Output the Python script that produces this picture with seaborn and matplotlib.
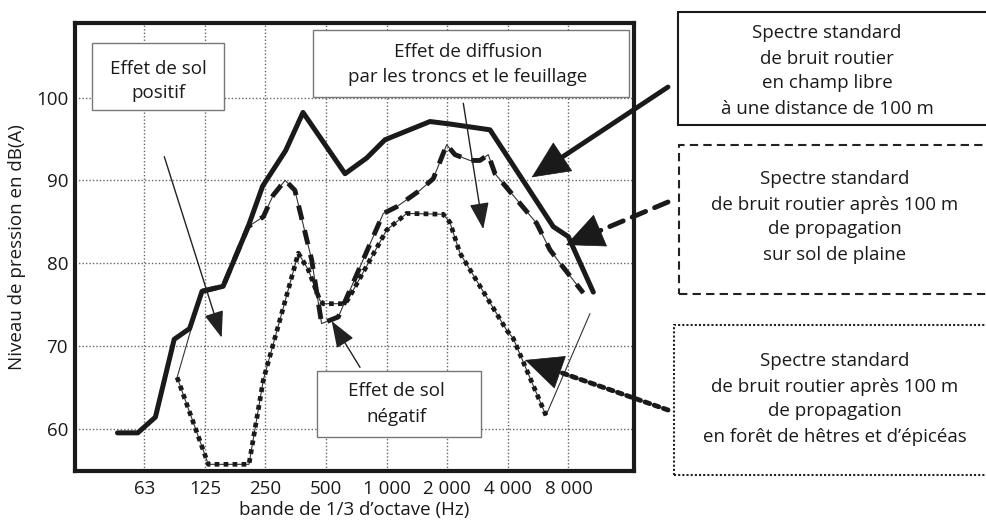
import numpy as np
import pandas as pd
import matplotlib.pyplot as plt
import seaborn as sns
from matplotlib.patches import Rectangle
from matplotlib.ticker import NullLocator

# spectres : frequence (Hz) et niveau (dB(A))
freq_libre = [46, 58, 71, 88, 105, 121, 154, 205, 242, 315, 384, 621, 796, 981,
              1641, 2063, 3259, 6724, 7983, 10625]
db_libre = [59.5, 59.5, 61.4, 70.8, 72.1, 76.6, 77.2, 84.4, 89.3, 93.6, 98.2, 90.8,
            92.7, 94.9, 97.1, 96.8, 96.1, 84.4, 83.2, 76.5]

freq_plaine = [91, 121, 154, 205, 244, 273, 313, 350, 424, 475, 575, 962, 1121, 1464,
               1704, 1986, 2184, 2593, 2907, 3196, 3452, 5559, 6475, 7258, 9476]
db_plaine = [66.2, 76.6, 77.2, 84.4, 85.6, 88.2, 90.0, 88.8, 80.4, 72.7, 73.5, 86.0,
             86.8, 88.8, 90.2, 94.3, 93.1, 92.4, 92.4, 93.1, 90.8, 84.8, 81.6, 80.0, 76.4]

freq_foret = [91, 130, 207, 244, 364, 408, 466, 484, 621, 653, 1000, 1257, 1910, 2063,
              2312, 3945, 4254, 6184, 10229]
db_foret = [66.2, 55.7, 55.7, 65.9, 81.2, 79.2, 75.5, 75.1, 75.1, 75.9, 84.0, 86.0,
            85.9, 84.9, 81.2, 71.9, 70.9, 61.6, 73.9]

tick_freq = [62.5, 125, 250, 500, 1000, 2000, 4000, 8000]
tick_labels = ['63', '125', '250', '500', '1 000', '2 000', '4 000', '8 000']
y_ticks = [60, 70, 80, 90, 100]

sns.set_theme(style='white')
plt.rcParams['font.family'] = ['Open Sans', 'DejaVu Sans']
plt.rcParams['text.color'] = 'k'
plt.rcParams['axes.labelcolor'] = 'k'
plt.rcParams['xtick.color'] = 'k'
plt.rcParams['ytick.color'] = 'k'
FS = 13.5

W, H = 986, 525
fig = plt.figure(figsize=(W / 100, H / 100), dpi=100)
ax = fig.add_axes([75 / W, 1 - 470.7 / H, (634 - 75) / W, (470.7 - 23) / H])


def px(x, y):
    # pixel depuis le coin haut-gauche -> fraction de figure
    return (x / W, 1 - y / H)


libre = pd.DataFrame({'f': freq_libre, 'db': db_libre})
plaine = pd.DataFrame({'f': freq_plaine, 'db': db_plaine})
foret = pd.DataFrame({'f': freq_foret, 'db': db_foret})

common = dict(ax=ax, x='f', y='db', estimator=None, sort=False, legend=False)
sns.lineplot(data=plaine, color='#333333', lw=0.8, **common)
sns.lineplot(data=foret, color='#333333', lw=0.8, **common)
sns.lineplot(data=foret.iloc[:-1], color='k', lw=3.4, ls=(0, (1, 0.9)), **common)
sns.lineplot(data=plaine.iloc[1:], color='k', lw=3.5, ls=(0, (3, 2.2)), **common)
sns.lineplot(data=libre, color='k', lw=3.6, **common)

ax.set_xscale('log', base=2)
ax.set_xlim(28.3, 16925)
ax.set_ylim(54.93, 109.0)
ax.set_xticks(tick_freq)
ax.set_xticklabels(tick_labels)
ax.xaxis.set_minor_locator(NullLocator())
ax.set_yticks(y_ticks)
ax.tick_params(length=0, labelsize=FS)
ax.tick_params(axis='x', pad=7)
ax.tick_params(axis='y', pad=5)
ax.grid(True, ls=(0, (1, 1.5)), color='#666666', lw=1)
ax.set_axisbelow(True)
for sp in ax.spines.values():
    sp.set_color('k')
    sp.set_linewidth(3)
ax.set_xlabel('bande de 1/3 d\u2019octave (Hz)', fontsize=FS, labelpad=2)
ax.set_ylabel('Niveau de pression en dB(A)', fontsize=FS, labelpad=7)

# encadres
boxes = [
    ((91.7, 43.3, 224, 110), '#777777', '-', 1.0, 'Effet de sol\npositif', (158, 81)),
    ((312.7, 30, 629.3, 96.7), '#777777', '-', 1.0,
     'Effet de diffusion\npar les troncs et le feuillage', (468, 64)),
    ((317.3, 370.7, 481, 436.7), '#777777', '-', 1.0, 'Effet de sol\nnégatif', (396, 404)),
    ((678.3, 11.7, 1000, 125), 'k', '-', 1.5,
     'Spectre standard\nde bruit routier\nen champ libre\nà une distance de 100 m', (827, 71)),
    ((679.3, 145, 1000, 294), '#222222', (0, (4, 2.5)), 1.5,
     'Spectre standard\nde bruit routier après 100 m\nde propagation\nsur sol de plaine', (835, 217)),
    ((674.3, 325, 1000, 475), '#222222', (0, (1, 1)), 1.5,
     'Spectre standard\nde bruit routier après 100 m\nde propagation\nen forêt de hêtres et d\u2019épicéas', (835, 399)),
]
for (x0, y0, x1, y1), ec, ls, lw, txt, (tx, ty) in boxes:
    fig.add_artist(Rectangle(px(x0, y1), (x1 - x0) / W, (y1 - y0) / H, transform=fig.transFigure,
                             fc='white', ec=ec, ls=ls, lw=lw, zorder=5))
    fig.text(*px(tx, ty), txt, ha='center', va='center', fontsize=FS, linespacing=1.5, zorder=6)

# fleches epaisses depuis les encadres de droite (pixels: depart, pointe)
big = [((668, 87), (531.7, 177.3), '-'),
       ((668, 202), (566, 245), (0, (3, 2))),
       ((668, 410), (525, 360), (0, (1, 1)))]
for (sx, sy), (tx, ty), ls in big:
    ax.annotate('', xy=px(tx, ty), xycoords='figure fraction', xytext=px(sx, sy),
                textcoords='figure fraction', annotation_clip=False,
                arrowprops=dict(arrowstyle='-', lw=3.5, ls=ls, color='k', shrinkA=0, shrinkB=14))
    bx, by = tx + 0.3 * (sx - tx), ty + 0.3 * (sy - ty)
    ax.annotate('', xy=px(tx, ty), xycoords='figure fraction', xytext=px(bx, by),
                textcoords='figure fraction', annotation_clip=False,
                arrowprops=dict(arrowstyle='-|>,head_length=1.3,head_width=0.6', mutation_scale=20,
                                lw=0.5, color='k', shrinkA=0, shrinkB=0))

# fleches fines des effets
thin = [(px(164.3, 156.7), (151.5, 71.0)),
        (px(463.3, 103.3), (3019, 84.1)),
        (px(360, 367.3), (533, 73.0))]
for start, tip in thin:
    ax.annotate('', xy=tip, xycoords='data', xytext=start, textcoords='figure fraction',
                annotation_clip=False,
                arrowprops=dict(arrowstyle='-|>,head_length=1.5,head_width=0.55', mutation_scale=11,
                                lw=1, color='#222222', shrinkA=0, shrinkB=0))

fig.savefig('out.png', dpi=100)
